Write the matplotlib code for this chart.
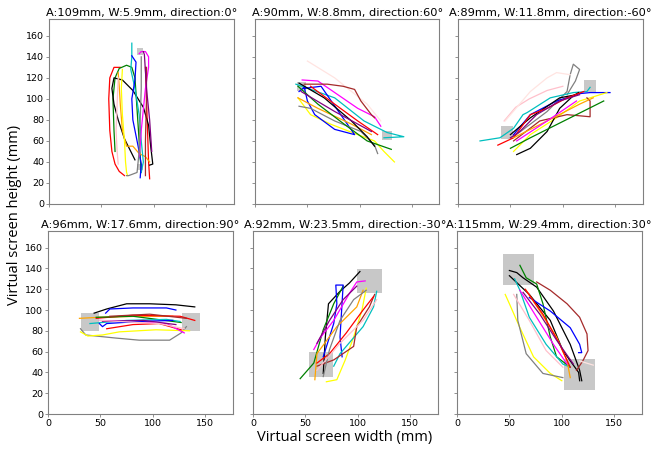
import matplotlib
matplotlib.use("Agg")
import matplotlib.pyplot as plt
from matplotlib.patches import Rectangle

# panel titles / target geometry
amplitudes = [109, 90, 89, 96, 92, 115]
widths = [5.9, 8.8, 11.8, 17.6, 23.5, 29.4]
directions = [0, 60, -60, 90, -30, 30]
target_a = [(87, 145), (44, 112), (47, 68), (40, 88.5), (65, 47.5), (59, 139)]
target_b = [(87, 35), (126, 65), (126, 112), (136.5, 88.5), (111, 128), (117, 38)]

# trajectories, panel 1 (0 deg)
p1_colors = ["red", "red", "green", "black", "orange", "yellow", "c", "blue",
             "magenta", "grey", "pink", "brown", "purple"]
p1_x = [[68, 62, 58, 57, 58, 60, 63, 67, 72],
        [92, 93, 94, 95, 96],
        [63, 62, 61, 63, 67, 74, 79, 82, 84, 86, 88],
        [82, 78, 72, 66, 62, 60, 62, 70, 80, 90, 95, 97, 99, 96],
        [66, 67, 68, 70, 74, 80, 86, 92, 96],
        [70, 69, 70, 72, 73, 74, 75],
        [79, 79, 78, 82, 86, 88, 90, 88],
        [79, 83, 82, 79, 80, 85, 88, 87],
        [86, 88, 92, 95, 95, 92, 90, 88, 87, 86],
        [88, 88, 87, 86, 84, 76, 74],
        [66, 65, 64, 65, 66],
        [93, 93, 92, 92],
        [90, 91, 93, 96, 98]]
p1_y = [[130, 130, 120, 100, 70, 50, 38, 31, 27],
        [130, 100, 70, 40, 24],
        [50, 70, 100, 120, 129, 132, 130, 120, 90, 60, 30],
        [42, 50, 62, 80, 95, 110, 120, 118, 108, 92, 75, 55, 38, 37],
        [125, 112, 95, 70, 55, 55, 48, 45, 40],
        [128, 110, 85, 60, 40, 30, 27],
        [153, 140, 128, 110, 85, 60, 40, 30],
        [141, 135, 118, 100, 80, 55, 38, 25],
        [143, 145, 145, 140, 130, 110, 90, 70, 55, 45],
        [140, 110, 80, 50, 30, 27, 27],
        [120, 95, 70, 50, 38],
        [130, 100, 60, 27],
        [145, 142, 110, 80, 50]]

# panel 2 (60 deg)
p2_colors = ["mistyrose", "magenta", "c", "brown", "yellow", "blue", "grey",
             "orange", "green", "black", "red", "purple"]
p2_x = [[50, 76, 107, 120],
        [45, 60, 98, 114, 120],
        [39, 76, 104, 126, 142, 123],
        [47, 69, 84, 95, 101, 111, 114],
        [41, 53, 72, 98, 114, 123, 133],
        [42, 47, 50, 57, 76, 95, 63, 47],
        [42, 53, 76, 101, 114, 117],
        [41, 60, 92, 111],
        [41, 60, 85, 107, 130],
        [42, 66, 92, 107, 114],
        [53, 76, 98, 117],
        [44, 76, 111]]
p2_y = [[136, 120, 95, 79],
        [118, 117, 91, 83, 74],
        [114, 101, 79, 68, 64, 63],
        [114, 114, 112, 109, 98, 85, 82],
        [101, 85, 76, 66, 60, 50, 40],
        [107, 111, 98, 85, 71, 66, 112, 110],
        [93, 91, 79, 69, 56, 48],
        [101, 91, 76, 66],
        [112, 95, 76, 60, 52],
        [115, 101, 79, 64, 55],
        [112, 95, 79, 66],
        [107, 88, 69]]

# panel 3 (-60 deg)
p3_colors = ["grey", "pink", "mistyrose", "c", "blue", "yellow", "black", "black",
             "red", "brown", "green", "orange", "purple", "magenta"]
p3_x = [[53, 85, 104, 107, 110, 116, 112, 104],
        [44, 55, 68, 85, 100],
        [45, 69, 85, 94, 107],
        [21, 40, 53, 62, 66, 88, 110, 123, 126],
        [53, 69, 94, 116, 126, 145],
        [53, 69, 94, 116, 126, 142],
        [56, 69, 85, 97, 110, 115],
        [50, 69, 97, 113],
        [38, 53, 69, 85, 104, 120],
        [53, 78, 104, 126, 126, 123],
        [50, 69, 101, 139],
        [53, 85, 116, 129],
        [50, 59, 75, 97, 116],
        [56, 85, 113]]
p3_y = [[64, 88, 107, 123, 133, 128, 117, 104],
        [79, 92, 100, 108, 112],
        [79, 107, 120, 125, 123],
        [60, 63, 72, 85, 87, 101, 106, 107, 111],
        [66, 85, 98, 105, 106, 106],
        [50, 66, 82, 98, 101, 106],
        [47, 53, 69, 91, 103, 106],
        [66, 82, 101, 104],
        [56, 63, 85, 91, 101, 107],
        [60, 79, 85, 83, 98, 101],
        [53, 63, 79, 98],
        [63, 79, 95, 101],
        [63, 69, 85, 98, 104],
        [60, 79, 98]]

# panel 4 (90 deg)
p4_colors = ["black", "blue", "grey", "yellow", "orange", "red", "red", "green",
             "c", "magenta", "blue", "purple", "brown", "pink"]
p4_x = [[44, 56, 75, 97, 122, 140],
        [55, 59, 81, 113, 122],
        [31, 36, 65, 87, 116, 127, 132],
        [31, 38, 52, 68, 103, 135],
        [30, 49, 87, 119],
        [46, 81, 126, 140],
        [56, 81, 106, 127],
        [46, 81, 127],
        [40, 75, 113, 126],
        [49, 81, 113, 130],
        [49, 52, 56, 87, 119],
        [52, 91, 122],
        [59, 97, 132],
        [49, 106, 130]]
p4_y = [[97, 101, 106, 106, 105, 103],
        [97, 101, 102, 102, 100],
        [82, 76, 73, 71, 71, 78, 84],
        [79, 75, 76, 79, 81, 80],
        [92, 93, 94, 94],
        [92, 95, 94, 90],
        [82, 86, 87, 81],
        [93, 94, 88],
        [87, 90, 91, 89],
        [90, 89, 87, 78],
        [87, 84, 87, 89, 90],
        [89, 90, 86],
        [94, 96, 92],
        [90, 87, 82]]

# panel 5 (-30 deg)
p5_colors = ["black", "green", "blue", "magenta", "yellow", "c", "brown",
             "orange", "red", "grey", "pink", "purple"]
p5_x = [[67, 69, 72, 83, 92, 102],
        [45, 58, 67, 77, 86],
        [67, 77, 80, 79, 86, 83, 85],
        [58, 64, 77, 92, 99, 107],
        [70, 80, 88, 96, 104, 108],
        [77, 83, 105, 115, 118],
        [61, 77, 96, 99, 111, 116],
        [59, 61, 80, 99, 105],
        [61, 73, 89, 105, 115],
        [67, 73, 83, 96, 108],
        [61, 83, 105, 118],
        [61, 73, 86, 99]]
p5_y = [[39, 74, 106, 118, 126, 137],
        [34, 49, 81, 106, 123],
        [55, 87, 106, 124, 124, 74, 55],
        [62, 73, 90, 116, 127, 128],
        [31, 33, 52, 74, 100, 121],
        [46, 58, 84, 103, 118],
        [46, 52, 65, 84, 103, 115],
        [33, 58, 84, 103, 119],
        [49, 58, 78, 100, 113],
        [36, 62, 90, 110, 119],
        [42, 68, 90, 110],
        [68, 90, 110, 123]]

# panel 6 (30 deg)
p6_colors = ["black", "black", "green", "brown", "blue", "c", "yellow", "grey",
             "orange", "red", "magenta", "pink", "purple", "mistyrose"]
p6_x = [[50, 57, 63, 76, 92, 108, 117, 119],
        [50, 69, 89, 101, 116, 117],
        [60, 66, 76, 82, 89, 95, 108],
        [76, 89, 105, 117, 124, 125, 120, 114],
        [69, 89, 108, 117, 119, 116],
        [55, 60, 69, 85, 101, 108],
        [46, 50, 60, 73, 89, 100],
        [57, 58, 66, 82, 101],
        [66, 79, 95, 105, 108],
        [65, 82, 98, 108],
        [60, 76, 92, 105],
        [54, 69, 85, 101],
        [63, 79, 95, 111],
        [117, 130]]
p6_y = [[138, 136, 131, 122, 99, 67, 42, 32],
        [133, 115, 90, 61, 40, 32],
        [143, 131, 125, 106, 74, 55, 45],
        [127, 119, 106, 93, 77, 61, 51, 42],
        [112, 99, 83, 67, 59, 59],
        [130, 119, 93, 67, 48, 45],
        [115, 106, 83, 55, 39, 32],
        [115, 90, 58, 39, 35],
        [119, 99, 74, 51, 35],
        [120, 96, 67, 45],
        [119, 93, 67, 48],
        [115, 90, 61, 45],
        [117, 96, 71, 48],
        [51, 47]]

panel_colors = [p1_colors, p2_colors, p3_colors, p4_colors, p5_colors, p6_colors]
panel_x = [p1_x, p2_x, p3_x, p4_x, p5_x, p6_x]
panel_y = [p1_y, p2_y, p3_y, p4_y, p5_y, p6_y]

fig = plt.figure(figsize=(6.52, 4.49), dpi=100)
W, H = 652, 449
lefts = [[49, 255, 458], [48, 253, 457]]
tops = [19, 231]
bottoms = [204, 414]

for i in range(6):
    r, c = divmod(i, 3)
    l = lefts[r][c]
    ax = fig.add_axes([l / W, 1 - bottoms[r] / H, 184.5 / W, (bottoms[r] - tops[r]) / H])
    w = widths[i]
    for (cx, cy) in (target_a[i], target_b[i]):
        ax.add_patch(Rectangle((cx - w / 2, cy - w / 2), w, w, color="#c8c8c8", lw=0, zorder=1))
    for col, xs, ys in zip(panel_colors[i], panel_x[i], panel_y[i]):
        ax.plot(xs, ys, color=col, lw=0.9, zorder=2)
    ax.set_xlim(0, 176)
    ax.set_ylim(0, 176)
    ax.set_xticks([0, 50, 100, 150])
    ax.set_yticks(range(0, 161, 20))
    ax.tick_params(labelsize=6.8, length=2, width=0.6, color="grey", pad=1.5)
    if r == 0:
        ax.tick_params(labelbottom=False, axis="x")
    if c > 0:
        ax.tick_params(labelleft=False, axis="y")
    for sp in ax.spines.values():
        sp.set_color("grey")
        sp.set_linewidth(0.8)
    ax.set_title(f"A:{amplitudes[i]}mm, W:{widths[i]}mm, direction:{directions[i]}°",
                 fontsize=8.2, pad=2)

fig.text(345 / W, 1 - 437 / H, "Virtual screen width (mm)", ha="center", va="center",
         fontsize=10.5, family="Open Sans")
fig.text(15 / W, 1 - 215 / H, "Virtual screen height (mm)", ha="center", va="center",
         rotation=90, fontsize=10.5, family="Open Sans")

fig.savefig("out.png", dpi=100)
